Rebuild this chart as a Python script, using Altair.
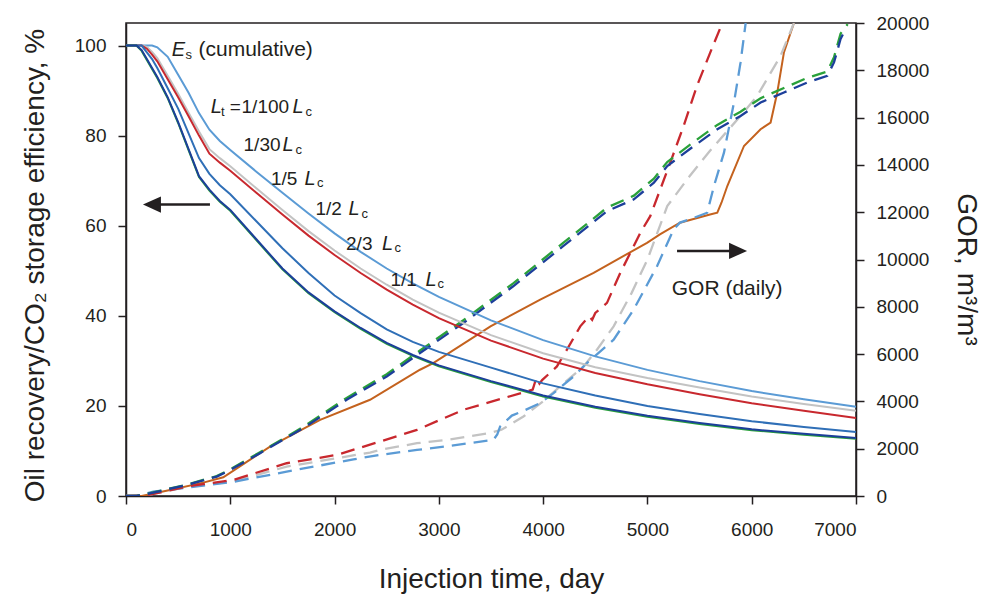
import altair as alt
import pandas as pd

# ---------------- E_s (cumulative), left axis, % ----------------
t_es = [0, 100, 150, 200, 250, 300, 400, 500, 600, 700, 800, 900, 1000, 1250, 1500,
        1750, 2000, 2250, 2500, 2750, 3000, 3500, 4000, 4500, 5000, 5500, 6000, 6500, 7000]
es_lightblue = [100, 100, 100, 100, 100, 99.6, 97.5, 93.5, 89.5, 85.0, 81.3, 78.8, 76.8, 72.0, 67.3,
                62.7, 58.3, 54.2, 50.5, 47.2, 44.2, 39.0, 34.6, 31.0, 28.0, 25.5, 23.3, 21.5, 19.8]
es_gray = [100, 100, 100, 99.7, 98.6, 97.2, 93.3, 89.3, 85.1, 80.9, 77.0, 75.0, 73.2, 68.3, 63.5,
           58.8, 54.5, 50.5, 46.9, 43.6, 40.7, 35.7, 31.7, 28.6, 26.2, 24.1, 22.1, 20.4, 18.9]
es_red = [100, 100, 100, 99.3, 98.0, 96.5, 92.5, 88.5, 84.3, 80.0, 76.0, 74.0, 72.2, 67.3, 62.5,
          57.8, 53.5, 49.5, 45.8, 42.5, 39.5, 34.5, 30.5, 27.3, 24.8, 22.6, 20.6, 18.9, 17.3]
es_steel = [100, 100, 100, 98.5, 97.0, 95.0, 90.5, 86.0, 80.5, 75.0, 71.5, 69.0, 67.0, 61.0, 55.0,
            49.5, 44.5, 40.6, 37.0, 34.2, 32.0, 28.5, 25.0, 22.3, 20.0, 18.2, 16.6, 15.3, 14.2]
es_darkblue = [100, 100, 99.0, 97.0, 95.0, 93.0, 88.5, 83.0, 77.0, 71.0, 68.0, 65.5, 63.5, 57.0, 50.5,
               45.2, 41.0, 37.3, 34.0, 31.3, 29.0, 25.5, 22.3, 19.8, 17.8, 16.2, 14.8, 13.8, 12.9]
es_green = [100, 100, 98.8, 96.8, 94.8, 92.8, 88.3, 82.8, 76.8, 70.8, 67.8, 65.3, 63.3, 56.8, 50.3,
            45.0, 40.8, 37.1, 33.8, 31.1, 28.8, 25.3, 22.1, 19.6, 17.6, 16.0, 14.6, 13.6, 12.7]

# ---------------- GOR (daily), right axis, m3/m3 ----------------
t_gor_db = [0, 100, 261, 582, 870, 1000, 1285, 1700, 2116, 2500, 2819, 3235, 3713, 4192, 4614, 4870,
            5062, 5190, 5446, 5670, 5893, 6085, 6309, 6533, 6725, 6789, 6852, 6900]
gor_db = [0, 0, 140, 466, 820, 1100, 1808, 2868, 4068, 5055, 6046, 7317, 8868, 10563, 12046, 12542,
          13250, 13953, 14800, 15508, 16070, 16638, 17062, 17485, 17767, 18333, 19321, 19745]
t_gor_gr = [0, 100, 261, 582, 870, 1000, 1285, 1700, 2116, 2500, 2819, 3235, 3713, 4192, 4614, 4870,
            5062, 5190, 5446, 5670, 5893, 6085, 6309, 6533, 6725, 6789, 6852, 6920]
gor_gr = [0, 0, 150, 480, 840, 1130, 1850, 2920, 4150, 5150, 6150, 7430, 8990, 10700, 12200, 12700,
          13420, 14120, 14980, 15690, 16250, 16820, 17250, 17680, 17950, 18550, 19550, 19950]
t_gor_red = [0, 200, 582, 1029, 1541, 2021, 2434, 2790, 3235, 3841, 3900, 3935, 3965, 3990, 4132, 4228,
             4356, 4440, 4470, 4500, 4612, 4740, 4932, 5027, 5219, 5347, 5475, 5603, 5718]
gor_red = [0, 30, 400, 678, 1385, 1737, 2300, 2796, 3644, 4420, 4500, 5000, 4750, 4900, 5478, 6186,
           7173, 7600, 7450, 7741, 8165, 9436, 11131, 11834, 14096, 15648, 17343, 18757, 20000]
t_gor_lb = [0, 100, 261, 582, 1029, 1541, 2181, 2434, 2790, 3075, 3523, 3560, 3587, 3700, 3811, 3972,
            4100, 4292, 4420, 4676, 4868, 5092, 5251, 5312, 5408, 5573, 5638, 5734, 5830, 5893, 5942]
gor_lb = [0, 0, 183, 350, 600, 1031, 1550, 1737, 1949, 2100, 2373, 2600, 2936, 3400, 3600, 3927,
          4351, 5055, 5622, 6610, 7881, 9716, 11270, 11560, 11700, 11978, 13106, 14520, 16638, 18333, 20000]
t_gor_gray = [0, 200, 582, 1029, 1541, 2340, 2434, 2790, 3075, 3482, 3600, 3811, 4000, 4163, 4388, 4516,
              4676, 4850, 5000, 5190, 5400, 5600, 5893, 6053, 6277, 6405]
gor_gray = [0, 30, 380, 620, 1243, 1836, 1950, 2232, 2373, 2656, 2800, 3360, 4000, 4632, 5478, 6186,
            7173, 8600, 10000, 12257, 13500, 14600, 16070, 16920, 18615, 20000]
t_gor_or = [0, 150, 422, 741, 933, 1381, 1861, 2340, 2819, 2946, 3495, 3972, 4484, 4996, 5120, 5312,
            5600, 5670, 5710, 5766, 5926, 6085, 6181, 6245, 6309, 6405]
gor_or = [0, 0, 254, 565, 790, 2090, 3220, 4068, 5339, 5622, 7173, 8305, 9436, 10707, 11059, 11554,
          11906, 11978, 12400, 13106, 14800, 15508, 15791, 17062, 18757, 20000]

# ---------------- labels ----------------
lt_values = ["1/100", "1/30", "1/5", "1/2", "2/3", "1/1"]
x_ticks = [0, 1000, 2000, 3000, 4000, 5000, 6000, 7000]
left_ticks = [0, 20, 40, 60, 80, 100]
right_ticks = [0, 2000, 4000, 6000, 8000, 10000, 12000, 14000, 16000, 18000, 20000]

INK = "#231f20"
FONT = "Liberation Sans"
C_LB, C_GRAY, C_RED = "#5b9bd5", "#c3c3c3", "#c8282e"
C_STEEL, C_DB, C_GREEN, C_OR = "#2f6fb7", "#1c3f9a", "#2aa13a", "#c4621e"

es_series = [("lb", es_lightblue, C_LB), ("gray", es_gray, C_GRAY), ("red", es_red, C_RED),
             ("steel", es_steel, C_STEEL), ("green", es_green, C_GREEN), ("db", es_darkblue, C_DB)]
es_df = pd.DataFrame([{"t": t, "v": v, "s": name}
                      for name, vals, _ in es_series for t, v in zip(t_es, vals)])

gor_series = [("gray", t_gor_gray, gor_gray, C_GRAY), ("lb", t_gor_lb, gor_lb, C_LB),
              ("red", t_gor_red, gor_red, C_RED), ("green", t_gor_gr, gor_gr, C_GREEN),
              ("db", t_gor_db, gor_db, C_DB)]
gor_df = pd.DataFrame([{"t": t, "v": v, "s": name}
                       for name, ts, vals, _ in gor_series for t, v in zip(ts, vals)])
or_df = pd.DataFrame({"t": t_gor_or, "v": gor_or})

xs = alt.Scale(domain=[0, 7000], nice=False, zero=False)
ys_left = alt.Scale(domain=[0, 105], nice=False)
ys_right = alt.Scale(domain=[0, 20000], nice=False)

X_TITLE = "Injection time, day"
L_TITLE = "Oil recovery/CO\u2082 storage efficiency, %"
R_TITLE = "GOR, m\u00b3/m\u00b3"


def x_axis():
    return alt.Axis(values=x_ticks, format="d", title=X_TITLE, titlePadding=26, labelPadding=16)


def left_axis():
    return alt.Axis(values=left_ticks, format="d", title=L_TITLE, titlePadding=25, titleY=242)


def right_axis():
    return alt.Axis(values=right_ticks, format="d", title=R_TITLE, orient="right", titlePadding=23,
                    titleY=246)


def X(field):
    return alt.X(field, type="quantitative", scale=xs, axis=x_axis(), title=X_TITLE)


def YL(field):
    return alt.Y(field, type="quantitative", scale=ys_left, axis=left_axis(), title=L_TITLE)


def YR(field):
    return alt.Y(field, type="quantitative", scale=ys_right, axis=right_axis(), title=R_TITLE)


es_lines = alt.Chart(es_df).mark_line(strokeWidth=2).encode(
    x=X("t"), y=YL("v"),
    color=alt.Color("s:N", scale=alt.Scale(domain=[s[0] for s in es_series],
                                           range=[s[2] for s in es_series]), legend=None),
    detail="s:N",
)

# annotations (data coordinates: days, %)
ann_normal = pd.DataFrame({
    "t": [695, 5233],
    "v": [97.6, 44.7],
    "txt": ["(cumulative)", "GOR (daily)"],
})
ann_frac = pd.DataFrame({
    "t": [995, 1108, 1127, 1390, 1817, 2110, 2536],
    "v": [85.0, 85.0, 76.5, 69.1, 62.4, 54.7, 46.7],
    "txt": ["="] + lt_values,
})
ann_italic = pd.DataFrame({
    "t": [439, 812, 1597, 1501, 1712, 2134, 2455, 2872],
    "v": [97.6, 85.0, 85.0, 76.5, 69.1, 62.4, 54.7, 46.7],
    "txt": ["E", "L", "L", "L", "L", "L", "L", "L"],
})
ann_sub = pd.DataFrame({
    "t": [571, 911, 1721, 1625, 1832, 2258, 2575, 2987],
    "v": [96.9, 84.4, 84.4, 75.9, 68.5, 61.8, 54.1, 46.1],
    "txt": ["s", "t", "c", "c", "c", "c", "c", "c"],
})


def text_layer(df, size, style="normal"):
    return alt.Chart(df).mark_text(align="left", baseline="alphabetic", font=FONT, fontSize=size,
                                   fontStyle=style, color=INK).encode(
        x=X("t"), y=YL("v"), text="txt:N",
    )


arrows = pd.DataFrame({"t1": [805, 5284], "t2": [249, 5869], "v": [64.7, 54.4],
                       "dir": ["left", "right"]})
arrow_lines = alt.Chart(arrows).mark_rule(strokeWidth=2.5, color=INK).encode(
    x=X("t1"), x2="t2:Q", y=YL("v"),
)
head_left = alt.Chart(arrows[arrows["dir"] == "left"]).mark_point(
    shape="M-1,0L1,-0.9L1,0.9Z", filled=True, size=324, color=INK, opacity=1).encode(
    x=X("t2"), y=YL("v"))
head_right = alt.Chart(arrows[arrows["dir"] == "right"]).mark_point(
    shape="M1,0L-1,-0.9L-1,0.9Z", filled=True, size=324, color=INK, opacity=1).encode(
    x=X("t2"), y=YL("v"))

left = alt.layer(es_lines, text_layer(ann_normal, 21), text_layer(ann_frac, 19),
                 text_layer(ann_italic, 20, "italic"), text_layer(ann_sub, 13),
                 arrow_lines, head_left, head_right)

gor_lines = alt.Chart(gor_df).mark_line(strokeWidth=2.3, strokeDash=[14, 8], clip=True).encode(
    x=X("t"), y=YR("v"),
    color=alt.Color("s:N", scale=alt.Scale(domain=[s[0] for s in gor_series],
                                           range=[s[3] for s in gor_series]), legend=None),
    detail="s:N",
)
or_line = alt.Chart(or_df).mark_line(strokeWidth=2, color=C_OR, clip=True).encode(
    x=X("t"), y=YR("v"),
)
right = alt.layer(or_line, gor_lines)

chart = alt.layer(right, left).resolve_scale(y="independent", color="independent").properties(
    width=730, height=473,
    padding={"left": 126, "top": 23, "right": 134, "bottom": 102},
    autosize=alt.AutoSizeParams(type="none"),
    background="white",
).configure_view(stroke=INK, strokeWidth=1.5).configure_axis(
    labelFont=FONT, labelFontSize=19, labelColor=INK, labelPadding=12,
    titleFont=FONT, titleFontSize=28, titleFontWeight="normal", titleColor=INK,
    domainColor=INK, domainWidth=1.5, tickColor=INK, tickWidth=1.5, tickSize=8, grid=False,
)

chart.save("out.html", embed_options={"renderer": "svg", "actions": False})
